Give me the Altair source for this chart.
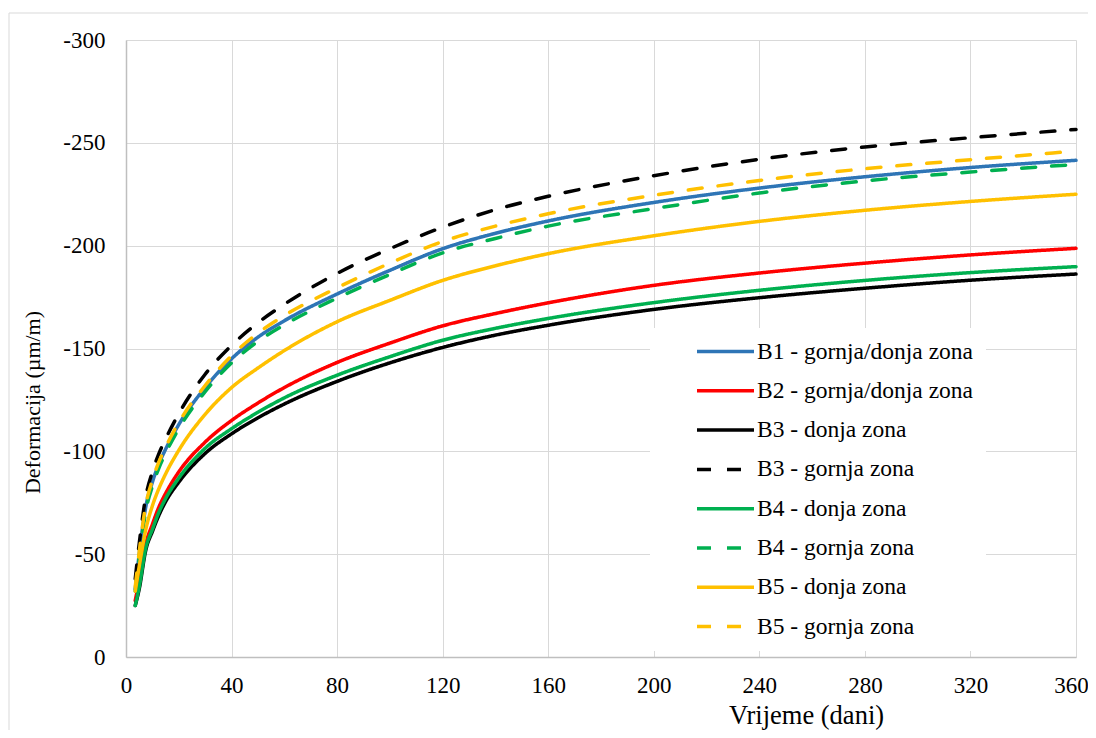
import altair as alt
import pandas as pd

days = [3.5, 5, 7.5, 10, 12.5, 15, 20, 30, 40, 50, 60, 80, 100, 120, 140, 160, 200, 240, 280, 320, 360]

series_names = [
    "B1 - gornja/donja zona",
    "B2 - gornja/donja zona",
    "B3 - donja zona",
    "B3 - gornja zona",
    "B4 - donja zona",
    "B4 - gornja zona",
    "B5 - donja zona",
    "B5 - gornja zona",
]

b1 = [-33, -50, -73, -85, -94, -101, -113, -131, -145, -155.5, -163.5, -176.5, -188, -198.5, -206, -212, -221, -228, -233.5, -238, -241.5]
b2 = [-27.5, -37, -55, -64.5, -73, -79.5, -90, -104.5, -115, -123.5, -131, -143.2, -152.6, -161, -167, -172.2, -180.7, -186.7, -191.5, -195.5, -198.7]
b3_donja = [-25, -33, -52, -61, -69, -75.5, -85, -99, -108.5, -116.3, -123, -134, -143, -150.5, -156.5, -161.3, -169, -174.7, -179.3, -183.2, -186.2]
b3_gornja = [-38, -55, -78, -90, -99, -106, -118.3, -137.5, -151.5, -162.5, -171.5, -186.5, -198.5, -209, -217.5, -224, -234, -242, -248, -252.5, -256.5]
b4_donja = [-25, -34, -53, -62, -70.5, -77, -87, -101.5, -111, -119, -126, -137, -146, -154, -159.8, -164.6, -172.3, -178.3, -183.1, -186.9, -189.8]
b4_gornja = [-32, -48, -71, -83, -92, -99, -111, -129, -143, -153.5, -161.5, -174.5, -186, -196.5, -203.5, -209.5, -218, -225.6, -231.5, -235.8, -239.5]
b5_donja = [-32, -44, -62, -73.5, -82, -89, -100.5, -118, -131, -140.5, -149, -163, -173.4, -183.1, -190.2, -196.1, -204.8, -211.8, -217.2, -221.5, -225]
b5_gornja = [-34, -51, -74, -86, -95, -102, -114, -132, -146.5, -157.5, -166, -179.5, -191.5, -202, -209.5, -215.5, -224.5, -231.7, -237.4, -241.8, -246]

all_values = [b1, b2, b3_donja, b3_gornja, b4_donja, b4_gornja, b5_donja, b5_gornja]

colors = ["#2E75B6", "#FF0000", "#000000", "#000000", "#00B050", "#00B050", "#FFC000", "#FFC000"]
dashes = [[1, 0], [1, 0], [1, 0], [14, 16], [1, 0], [14, 16], [1, 0], [14, 16]]

x_ticks = [0, 40, 80, 120, 160, 200, 240, 280, 320, 360]
y_ticks = [-300, -250, -200, -150, -100, -50, 0]

rows = []
for name, vals in zip(series_names, all_values):
    for d, v in zip(days, vals):
        rows.append({"Serija": name, "Dan": d, "Def": v})
df = pd.DataFrame(rows)

FONT = "Liberation Serif"

lines = alt.Chart(df).mark_line(strokeWidth=3.5, interpolate="monotone", strokeCap="round").encode(
    x=alt.X("Dan:Q",
            scale=alt.Scale(domain=[0, 360], nice=False, zero=False),
            axis=alt.Axis(values=x_ticks, title="Vrijeme (dani)", ticks=False,
                          labelPadding=17, labelFlush=False,
                          labelOffset={"condition": {"test": "datum.value == 360", "value": -5}, "value": 0},
                          titleX=680, titleY=66, titleFontSize=26.5,
                          titleBaseline="alphabetic", titleAlign="center")),
    y=alt.Y("Def:Q",
            scale=alt.Scale(domain=[-300, 0], reverse=True, nice=False),
            axis=alt.Axis(values=y_ticks, title="Deformacija (µm/m)", ticks=False,
                          labelPadding=21, labelFlush=False, labelExpr="toString(datum.value)",
                          titleAngle=-90, titleX=-87, titleY=362, titleFontSize=22,
                          titleBaseline="alphabetic", titleAlign="center")),
    color=alt.Color("Serija:N",
                    scale=alt.Scale(domain=series_names, range=colors),
                    sort=series_names,
                    legend=alt.Legend(title=None, orient="none", legendX=524, legendY=288,
                                      symbolType="stroke", symbolSize=3249,
                                      symbolStrokeWidth=3.5, symbolOffset=33,
                                      labelFontSize=23.5, labelFont=FONT, labelColor="#000000",
                                      labelOffset=1, clipHeight=23, rowPadding=15.3, padding=12,
                                      fillColor="#FFFFFF", labelLimit=400)),
    strokeDash=alt.StrokeDash("Serija:N",
                              scale=alt.Scale(domain=series_names, range=dashes),
                              sort=series_names, legend=None),
    order=alt.Order("Dan:Q"),
)

border = alt.Chart(pd.DataFrame({"b": [0]})).mark_rect(fill="transparent", stroke="#D9D9D9", strokeWidth=1, clip=False).encode(
    x=alt.value(-117), x2=alt.value(1000), y=alt.value(-27), y2=alt.value(720)
)

chart = alt.layer(border, lines).properties(
    width=950, height=617,
    autosize=alt.AutoSizeParams(type="none"),
    padding={"left": 118, "top": 32, "right": 12, "bottom": 73},
).configure(
    background="#FFFFFF",
).configure_view(
    stroke=None,
).configure_axis(
    labelFont=FONT, titleFont=FONT, labelFontSize=23, titleFontSize=23,
    labelColor="#000000", titleColor="#000000", titleFontWeight="normal",
    gridColor="#D9D9D9", gridWidth=1, domainColor="#BFBFBF", domainWidth=1.5,
)

chart.save("out.html", embed_options={"renderer": "svg", "actions": False})
